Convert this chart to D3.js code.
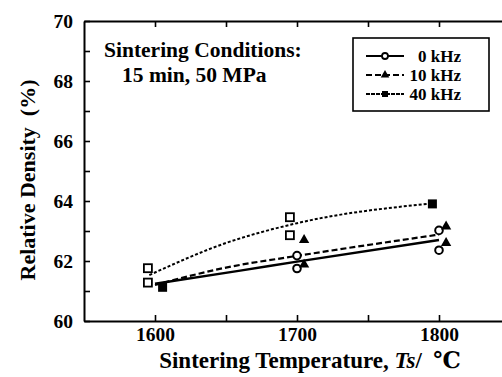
<!DOCTYPE html>
<html>
<head>
<meta charset="utf-8">
<script src="https://cdn.jsdelivr.net/npm/d3@7"></script>
<style>
  body { margin: 0; background: #fff; }
</style>
</head>
<body>
<svg id="chart" width="502" height="377"></svg>
<script>
// measured points, [temperature, density]
const pts0kHz = [[1700, 61.75], [1700, 62.18], [1800, 63.02], [1800, 62.36]];
const pts10kHz = [[1705, 62.7], [1705, 61.88], [1805, 63.15], [1805, 62.6]];
const pts40kHzOpen = [[1595, 61.76], [1595, 61.28], [1695, 63.46], [1695, 62.86]];
const pts40kHzFilled = [[1605, 61.14], [1795, 63.92]];

// fitted curves
const fit0kHz = [[1600, 61.24], [1660, 61.68], [1700, 61.98], [1800, 62.7]];
const fit10kHz = [[1600, 61.2], [1650, 61.78], [1700, 62.17], [1800, 62.88]];
const fit40kHz = [[1596, 61.53], [1650, 62.6], [1700, 63.26], [1795, 63.92]];

const xTicks = [1600, 1650, 1700, 1750, 1800];
const xLabels = [1600, 1700, 1800];
const yTicks = [60, 61, 62, 63, 64, 65, 66, 67, 68, 69, 70];
const yLabels = [60, 62, 64, 66, 68, 70];

const legendNames = ['0 kHz', '10 kHz', '40 kHz'];
const noteLines = ['Sintering Conditions:', '15 min, 50 MPa'];

const FONT = '"Liberation Serif", "DejaVu Serif", serif';

const svg = d3.select('#chart');
const x = d3.scaleLinear().domain([1550, 1850]).range([84, 510]);
const y = d3.scaleLinear().domain([60, 70]).range([321, 21]);

/// axes: ticks point inward
const axisStyle = (g) => {
  g.attr('font-family', null);
  g.select('.domain').attr('stroke-width', 2);
  g.selectAll('.tick line').attr('stroke-width', 1.6);
  g.selectAll('.tick text').style('font-size', '19.5px').attr('dy', '0.35em');
};

svg.append('g')
  .attr('transform', `translate(0,${y(60)})`)
  .call(d3.axisBottom(x).tickValues(xTicks).tickSize(-6).tickSizeOuter(0)
    .tickPadding(13).tickFormat((d) => (xLabels.includes(d) ? d : '')))
  .call(axisStyle);

svg.append('g')
  .attr('transform', `translate(0,${y(70)})`)
  .call(d3.axisTop(x).tickValues(xTicks).tickSize(-6).tickSizeOuter(0).tickFormat(''))
  .call(axisStyle);

svg.append('g')
  .attr('transform', `translate(${x(1550)},0)`)
  .call(d3.axisLeft(y).tickValues(yTicks).tickSize(-6).tickSizeOuter(0)
    .tickPadding(11).tickFormat((d) => (yLabels.includes(d) ? d : '')))
  .call(axisStyle);

svg.selectAll('.domain').attr('stroke', '#000');

/// fitted lines
const line = d3.line().x((d) => x(d[0])).y((d) => y(d[1])).curve(d3.curveMonotoneX);
const fits = [
  { data: fit0kHz, dash: null, w: 2.4 },
  { data: fit10kHz, dash: '6,3', w: 2.2 },
  { data: fit40kHz, dash: '3,2', w: 2 },
];
svg.selectAll('path.fit')
  .data(fits)
  .enter().append('path')
  .attr('class', 'fit')
  .attr('d', (d) => line(d.data))
  .attr('fill', 'none')
  .attr('stroke', '#000')
  .attr('stroke-width', (d) => d.w)
  .attr('stroke-dasharray', (d) => d.dash);

/// markers
const tri = d3.symbol().type(d3.symbolTriangle).size(46);
const sq = 8;

svg.selectAll('circle.p0')
  .data(pts0kHz)
  .enter().append('circle')
  .attr('cx', (d) => x(d[0]))
  .attr('cy', (d) => y(d[1]))
  .attr('r', 3.8)
  .attr('fill', '#fff')
  .attr('stroke', '#000')
  .attr('stroke-width', 2);

svg.selectAll('path.p10')
  .data(pts10kHz)
  .enter().append('path')
  .attr('d', tri)
  .attr('transform', (d) => `translate(${x(d[0])},${y(d[1])})`)
  .attr('fill', '#000');

svg.selectAll('rect.p40o')
  .data(pts40kHzOpen)
  .enter().append('rect')
  .attr('x', (d) => x(d[0]) - sq / 2)
  .attr('y', (d) => y(d[1]) - sq / 2)
  .attr('width', sq)
  .attr('height', sq)
  .attr('fill', '#fff')
  .attr('stroke', '#000')
  .attr('stroke-width', 1.8);

svg.selectAll('rect.p40f')
  .data(pts40kHzFilled)
  .enter().append('rect')
  .attr('x', (d) => x(d[0]) - sq / 2)
  .attr('y', (d) => y(d[1]) - sq / 2)
  .attr('width', sq + 1)
  .attr('height', sq + 1)
  .attr('fill', '#000');

/// note
svg.append('g')
  .selectAll('text')
  .data(noteLines)
  .enter().append('text')
  .attr('x', (_, i) => (i === 0 ? 104 : 122))
  .attr('y', (_, i) => 57 + i * 25)
  .style('font-size', '21.5px')
  .text((d) => d);

/// legend
const legend = svg.append('g');
legend.append('rect')
  .attr('x', 353).attr('y', 38).attr('width', 136).attr('height', 73)
  .attr('fill', 'none').attr('stroke', '#000').attr('stroke-width', 1.6);

const rows = legend.selectAll('g.row')
  .data(legendNames)
  .enter().append('g')
  .attr('transform', (_, i) => `translate(0,${56 + i * 19})`);

rows.append('line')
  .attr('x1', 366).attr('x2', 404)
  .attr('stroke', '#000').attr('stroke-width', 2)
  .attr('stroke-dasharray', (_, i) => (i === 2 ? '4,1' : fits[i].dash));

rows.append('text')
  .attr('x', 461)
  .attr('text-anchor', 'end')
  .attr('dy', '0.35em')
  .style('font-size', '17px')
  .text((d) => d);

rows.filter((_, i) => i === 0).append('circle')
  .attr('cx', 385).attr('r', 3).attr('fill', '#fff').attr('stroke', '#000').attr('stroke-width', 1.8);
rows.filter((_, i) => i === 1).append('path')
  .attr('d', d3.symbol().type(d3.symbolTriangle).size(32))
  .attr('transform', 'translate(385,0)').attr('fill', '#000');
rows.filter((_, i) => i === 2).append('rect')
  .attr('x', 382).attr('y', -3).attr('width', 6).attr('height', 6)
  .attr('fill', '#000');

/// axis titles
svg.append('text')
  .attr('x', 310).attr('y', 368)
  .attr('text-anchor', 'middle')
  .style('font-size', '23px')
  .call((t) => {
    t.append('tspan').text('Sintering Temperature, ');
    t.append('tspan').style('font-style', 'italic').text('Ts');
    t.append('tspan').text('/\u00a0 \u2103');
  });

svg.append('text')
  .attr('transform', 'translate(35,180) rotate(-90)')
  .attr('text-anchor', 'middle')
  .style('font-size', '22px')
  .text('Relative Density\u00a0 (%)');

svg.selectAll('text')
  .style('font-family', FONT)
  .style('font-weight', 'bold')
  .attr('fill', '#000');
</script>
</body>
</html>
